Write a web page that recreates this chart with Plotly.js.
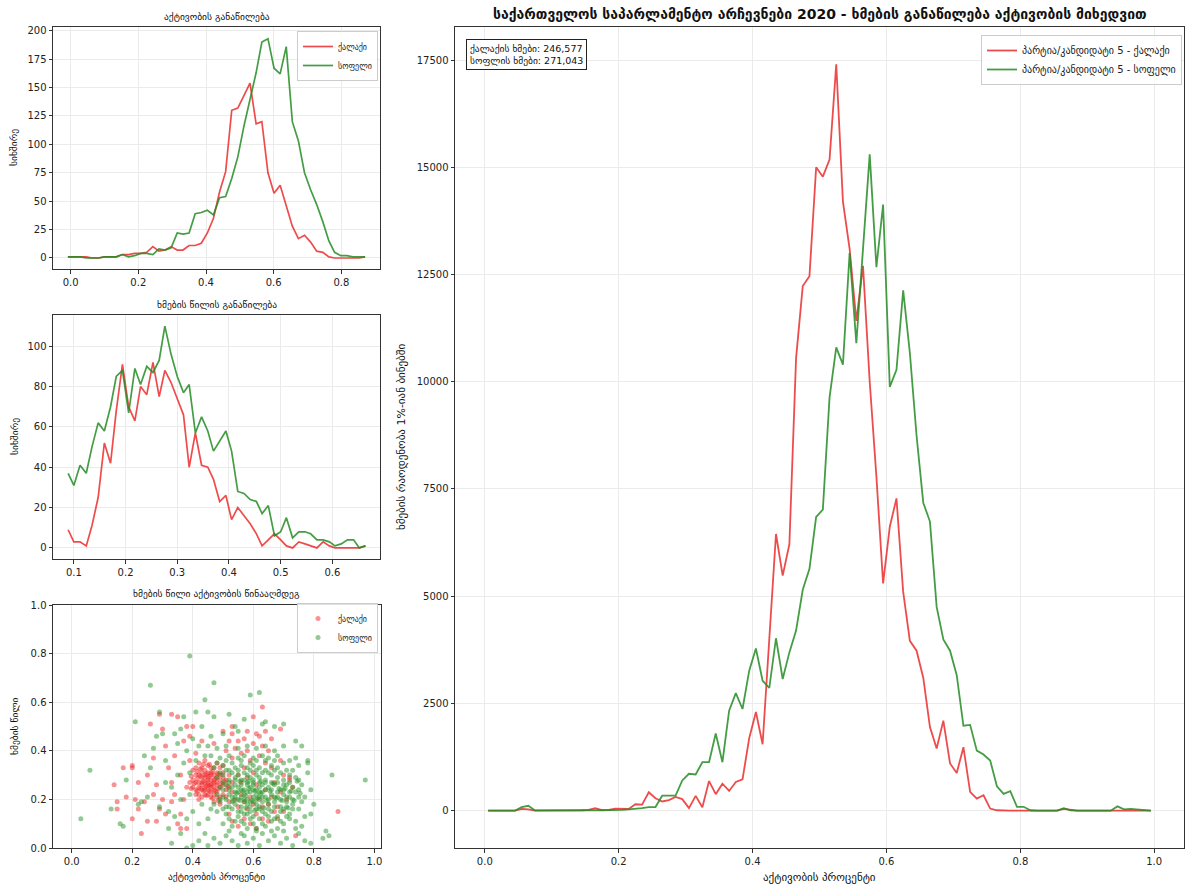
<!DOCTYPE html>
<html>
<head>
<meta charset="utf-8">
<script src="https://cdn.plot.ly/plotly-3.0.1.min.js"></script>
<style>
  html, body { margin: 0; padding: 0; background: #ffffff; }
  #chart { width: 1186px; height: 888px; }
</style>
</head>
<body>
<div id="chart"></div>
<script>
// ---- Turnout histogram (precinct counts) ----
const turnoutBins = [-0.008,0.010,0.028,0.046,0.064,0.082,0.100,0.117,0.135,0.153,0.171,0.189,0.207,0.225,0.243,0.261,0.279,0.297,0.315,0.332,0.350,0.368,0.386,0.404,0.422,0.440,0.458,0.476,0.494,0.512,0.530,0.548,0.565,0.583,0.601,0.619,0.637,0.655,0.673,0.691,0.709,0.727,0.745,0.763,0.780,0.798,0.816,0.834,0.852,0.870];
const turnoutUrban = [1,1,1,1,0,0,1,1,1,3,3,4,4,5,10,6,7,10,7,7,11,11,13,22,35,58,76,130,132,143,154,118,120,75,57,64,45,28,17,20,14,6,5,1,0,0,0,0,0,1];
const turnoutRural = [1,1,1,0,0,0,1,1,1,3,1,2,4,4,3,8,7,9,22,21,22,39,40,42,38,53,54,70,89,116,140,163,190,193,167,162,186,120,103,75,60,47,32,15,5,2,2,1,1,1];

// ---- Vote share histogram (precinct counts) ----
const shareBins = [0.089,0.100,0.112,0.124,0.135,0.147,0.159,0.171,0.182,0.194,0.206,0.218,0.229,0.241,0.253,0.265,0.276,0.288,0.300,0.312,0.323,0.335,0.347,0.359,0.370,0.382,0.394,0.405,0.417,0.429,0.441,0.453,0.464,0.476,0.488,0.500,0.511,0.523,0.535,0.547,0.558,0.570,0.582,0.594,0.605,0.617,0.629,0.641,0.652,0.664];
const shareUrban = [9,3,3,1,11,25,52,42,68,91,70,63,80,76,92,75,88,82,74,66,40,57,41,40,34,23,26,14,20,16,12,7,1,4,7,4,1,0,3,2,1,0,3,1,0,0,0,0,0,1];
const shareRural = [37,31,41,37,50,62,58,70,85,88,67,89,81,90,87,93,110,96,85,77,81,57,65,58,48,53,58,48,28,27,24,23,17,21,6,8,15,5,8,8,7,4,4,3,1,2,4,4,0,1];

// ---- Votes per 1% turnout bin ----
const voteBins = [0.005,0.015,0.025,0.035,0.045,0.055,0.065,0.075,0.085,0.095,0.105,0.115,0.125,0.135,0.145,0.155,0.165,0.175,0.185,0.195,0.205,0.215,0.225,0.235,0.245,0.255,0.265,0.275,0.285,0.295,0.305,0.315,0.325,0.335,0.345,0.355,0.365,0.375,0.385,0.395,0.405,0.415,0.425,0.435,0.445,0.455,0.465,0.475,0.485,0.495,0.505,0.515,0.525,0.535,0.545,0.555,0.565,0.575,0.585,0.595,0.605,0.615,0.625,0.635,0.645,0.655,0.665,0.675,0.685,0.695,0.705,0.715,0.725,0.735,0.745,0.755,0.765,0.775,0.785,0.795,0.805,0.815,0.825,0.835,0.845,0.855,0.865,0.875,0.885,0.895,0.905,0.915,0.925,0.935,0.945,0.955,0.965,0.975,0.985,0.995];
const votesUrban = [0,0,0,0,0,40,30,0,0,0, 0,0,0,5,10,20,60,15,20,45, 45,40,150,140,430,290,215,245,320,270, 60,345,80,690,385,630,460,670,730,1690, 2300,1550,4000,6450,5480,6210,10550,12230,12460,15000, 14780,15180,17400,14200,13100,11420,12700,10000,7790,5300, 6620,7280,5100,3960,3730,3100,1950,1450,2100,1100, 880,1480,440,280,360,50,10,0,0,0, 0,0,0,0,0,0,40,20,0,0, 0,0,0,0,0,0,0,0,0,0];
const votesRural = [0,0,0,0,0,85,115,5,0,0, 5,5,10,5,10,10,15,10,10,20, 20,30,40,60,85,85,350,350,350,705, 860,845,1130,1130,1800,1130,2330,2740,2370,3265, 3780,3030,2860,4020,3070,3690,4200,5150,5640,6850, 7020,9630,10800,10400,13000,10900,13200,15300,12670,14130, 9880,10280,12130,10670,8740,7180,6740,4750,3990,3730, 3160,1980,2000,1400,1310,1170,570,390,457,90, 90,10,0,0,0,0,60,10,0,0, 0,0,0,0,100,30,40,30,10,0];

const urbanTotal = "246,577";
const ruralTotal = "271,043";

// ---- Precincts: turnout vs vote share ----
const urbanPoints = [
 [0.40,0.28],[0.41,0.27],[0.42,0.30],[0.43,0.26],[0.44,0.29],[0.45,0.31],[0.46,0.28],[0.47,0.25],[0.48,0.27],[0.49,0.30],
 [0.41,0.24],[0.42,0.22],[0.43,0.33],[0.44,0.24],[0.45,0.22],[0.46,0.33],[0.47,0.30],[0.48,0.23],[0.49,0.21],[0.50,0.26],
 [0.42,0.27],[0.43,0.29],[0.44,0.27],[0.45,0.26],[0.46,0.25],[0.47,0.27],[0.48,0.31],[0.49,0.25],[0.50,0.29],[0.51,0.24],
 [0.40,0.32],[0.41,0.30],[0.42,0.25],[0.43,0.21],[0.44,0.32],[0.45,0.28],[0.46,0.21],[0.47,0.33],[0.48,0.35],[0.49,0.28],
 [0.43,0.24],[0.44,0.22],[0.45,0.34],[0.46,0.30],[0.47,0.22],[0.48,0.29],[0.50,0.22],[0.51,0.28],[0.52,0.25],[0.53,0.23],
 [0.39,0.27],[0.40,0.25],[0.41,0.33],[0.42,0.35],[0.44,0.36],[0.45,0.24],[0.46,0.26],[0.47,0.28],[0.48,0.26],[0.49,0.33],
 [0.43,0.27],[0.44,0.30],[0.45,0.29],[0.46,0.31],[0.47,0.24],[0.48,0.21],[0.50,0.31],[0.51,0.21],[0.52,0.30],[0.53,0.27],
 [0.44,0.25],[0.45,0.27],[0.46,0.23],[0.43,0.31],[0.42,0.20],[0.41,0.22],[0.47,0.19],[0.49,0.18],[0.50,0.34],[0.52,0.19],
 [0.405,0.265],[0.415,0.285],[0.425,0.245],[0.435,0.275],[0.445,0.255],[0.455,0.295],[0.465,0.265],[0.475,0.285],[0.485,0.245],[0.415,0.315],
 [0.425,0.295],[0.435,0.235],[0.445,0.305],[0.455,0.235],[0.465,0.315],[0.475,0.235],[0.485,0.305],[0.495,0.265],[0.435,0.345],[0.455,0.345],
 [0.415,0.235],[0.395,0.295],[0.505,0.275],[0.425,0.325],[0.445,0.215],[0.465,0.205],[0.485,0.195],[0.395,0.245],[0.515,0.255],[0.455,0.255],
 [0.54,0.20],[0.55,0.17],[0.56,0.22],[0.57,0.19],[0.58,0.16],[0.59,0.21],[0.60,0.18],[0.61,0.14],[0.62,0.20],[0.63,0.17],
 [0.55,0.30],[0.56,0.27],[0.57,0.33],[0.58,0.29],[0.59,0.36],[0.60,0.31],[0.61,0.26],[0.62,0.38],[0.63,0.42],[0.64,0.35],
 [0.53,0.37],[0.54,0.41],[0.55,0.44],[0.56,0.39],[0.57,0.45],[0.58,0.40],[0.60,0.43],[0.61,0.47],[0.65,0.40],[0.66,0.33],
 [0.64,0.24],[0.65,0.18],[0.66,0.21],[0.67,0.27],[0.68,0.17],[0.69,0.23],[0.70,0.30],[0.71,0.20],[0.72,0.28],[0.73,0.25],
 [0.52,0.14],[0.53,0.11],[0.55,0.09],[0.57,0.12],[0.59,0.10],[0.61,0.08],[0.63,0.12],[0.65,0.11],[0.67,0.15],[0.69,0.36],
 [0.51,0.40],[0.52,0.44],[0.53,0.47],[0.58,0.48],[0.62,0.46],[0.64,0.48],[0.66,0.45],[0.69,0.49],[0.63,0.58],[0.60,0.54],
 [0.14,0.26],[0.15,0.19],[0.15,0.16],[0.17,0.33],[0.18,0.21],[0.20,0.34],[0.20,0.33],[0.20,0.12],[0.21,0.20],[0.22,0.27],
 [0.22,0.16],[0.23,0.06],[0.24,0.19],[0.25,0.11],[0.25,0.30],[0.26,0.51],[0.27,0.37],[0.28,0.11],[0.28,0.26],[0.29,0.16],
 [0.29,0.55],[0.30,0.49],[0.30,0.20],[0.31,0.14],[0.32,0.33],[0.33,0.55],[0.33,0.27],[0.34,0.22],[0.35,0.54],[0.35,0.10],
 [0.36,0.08],[0.37,0.44],[0.38,0.50],[0.39,0.46],[0.40,0.50],[0.41,0.39],[0.43,0.44],[0.47,0.43],[0.50,0.48],[0.53,0.50],
 [0.72,0.29],[0.74,0.05],[0.88,0.15],[0.70,0.15],[0.68,0.12],[0.36,0.30],[0.37,0.20],[0.38,0.25],[0.38,0.08],[0.39,0.36],
 [0.34,0.38],[0.31,0.42],[0.36,0.14],[0.33,0.19],[0.27,0.22]
];
const ruralPoints = [
 [0.50,0.10],[0.53,0.09],[0.56,0.11],[0.58,0.08],[0.60,0.10],[0.62,0.12],[0.64,0.09],[0.66,0.11],[0.68,0.08],[0.70,0.10],[0.72,0.12],[0.55,0.13],[0.61,0.07],[0.74,0.11],
 [0.52,0.12],[0.54,0.11],[0.57,0.10],[0.59,0.12],[0.63,0.10],[0.65,0.13],[0.67,0.12],[0.69,0.11],[0.71,0.13],
 [0.48,0.15],[0.51,0.14],[0.53,0.16],[0.55,0.15],[0.57,0.14],[0.59,0.15],[0.60,0.13],[0.62,0.16],[0.64,0.14],[0.66,0.15],[0.68,0.13],[0.70,0.16],[0.72,0.14],[0.75,0.16],[0.77,0.13],
 [0.50,0.16],[0.52,0.17],[0.56,0.15],[0.58,0.14],[0.61,0.16],[0.63,0.15],[0.65,0.16],[0.67,0.17],[0.69,0.15],[0.71,0.17],[0.73,0.16],
 [0.47,0.18],[0.49,0.19],[0.51,0.17],[0.53,0.19],[0.54,0.18],[0.56,0.17],[0.57,0.19],[0.58,0.18],[0.59,0.17],[0.60,0.19],[0.61,0.18],[0.62,0.17],[0.63,0.19],[0.65,0.18],[0.67,0.19],[0.69,0.17],[0.71,0.19],[0.73,0.18],[0.76,0.19],
 [0.49,0.20],[0.51,0.20],[0.53,0.21],[0.55,0.20],[0.57,0.20],[0.59,0.19],[0.61,0.20],[0.63,0.21],[0.65,0.20],[0.67,0.21],[0.69,0.20],[0.71,0.21],[0.73,0.20],[0.75,0.21],
 [0.48,0.22],[0.50,0.21],[0.52,0.22],[0.54,0.21],[0.55,0.23],[0.56,0.21],[0.57,0.22],[0.58,0.20],[0.59,0.23],[0.60,0.21],[0.61,0.22],[0.62,0.21],[0.63,0.23],[0.64,0.21],[0.66,0.22],[0.68,0.21],[0.70,0.22],[0.72,0.21],[0.74,0.23],
 [0.50,0.24],[0.52,0.24],[0.54,0.23],[0.56,0.24],[0.58,0.23],[0.60,0.24],[0.62,0.23],[0.64,0.24],[0.66,0.24],[0.68,0.23],[0.70,0.24],[0.72,0.23],[0.75,0.24],
 [0.49,0.25],[0.51,0.26],[0.53,0.25],[0.54,0.26],[0.55,0.25],[0.56,0.26],[0.57,0.24],[0.58,0.26],[0.59,0.25],[0.60,0.26],[0.61,0.24],[0.62,0.25],[0.63,0.26],[0.65,0.25],[0.67,0.26],[0.69,0.24],[0.71,0.26],[0.73,0.25],[0.76,0.26],
 [0.50,0.27],[0.52,0.27],[0.54,0.28],[0.56,0.28],[0.58,0.27],[0.60,0.27],[0.62,0.27],[0.64,0.27],[0.66,0.27],[0.68,0.27],[0.70,0.26],[0.72,0.27],[0.75,0.28],
 [0.48,0.29],[0.50,0.30],[0.52,0.28],[0.54,0.29],[0.55,0.30],[0.57,0.28],[0.58,0.30],[0.59,0.29],[0.60,0.28],[0.61,0.30],[0.62,0.29],[0.64,0.28],[0.66,0.30],[0.68,0.29],[0.70,0.28],[0.72,0.30],[0.74,0.29],
 [0.49,0.31],[0.51,0.32],[0.53,0.31],[0.55,0.32],[0.57,0.31],[0.59,0.32],[0.61,0.32],[0.63,0.31],[0.65,0.31],[0.67,0.32],[0.69,0.31],[0.73,0.32],
 [0.47,0.33],[0.50,0.34],[0.52,0.32],[0.54,0.33],[0.56,0.34],[0.58,0.33],[0.60,0.34],[0.62,0.33],[0.64,0.32],[0.66,0.34],[0.68,0.33],[0.71,0.32],[0.75,0.34],[0.78,0.35],
 [0.48,0.35],[0.51,0.36],[0.53,0.35],[0.56,0.36],[0.59,0.35],[0.61,0.36],[0.64,0.36],[0.67,0.36],[0.70,0.35],[0.74,0.37],
 [0.46,0.38],[0.49,0.37],[0.52,0.38],[0.55,0.37],[0.57,0.38],[0.60,0.37],[0.63,0.38],[0.65,0.37],[0.68,0.38],[0.72,0.36],
 [0.45,0.42],[0.48,0.41],[0.51,0.42],[0.55,0.41],[0.58,0.42],[0.61,0.41],[0.64,0.42],[0.67,0.40],[0.70,0.42],
 [0.555,0.195],[0.565,0.235],[0.575,0.215],[0.585,0.245],[0.595,0.195],[0.605,0.235],[0.615,0.205],[0.625,0.275],[0.635,0.165],[0.645,0.195],
 [0.575,0.165],[0.585,0.275],[0.555,0.275],[0.605,0.155],[0.625,0.225],[0.545,0.225],[0.535,0.195],[0.655,0.235],[0.665,0.265],[0.675,0.205],
 [0.685,0.245],[0.695,0.195],[0.705,0.245],[0.715,0.165],[0.725,0.235],[0.735,0.195],[0.745,0.275],[0.755,0.225],
 [0.33,0.02],[0.38,0.00],[0.40,0.01],[0.42,0.03],[0.45,0.01],[0.47,0.04],[0.49,0.02],[0.51,0.05],[0.53,0.03],[0.55,0.01],[0.57,0.05],[0.58,0.02],
 [0.60,0.04],[0.62,0.01],[0.63,0.06],[0.65,0.03],[0.67,0.05],[0.69,0.02],[0.71,0.04],[0.73,0.01],[0.75,0.06],[0.77,0.03],[0.79,0.02],[0.83,0.04],
 [0.84,0.07],[0.85,0.05],[0.52,0.07],[0.56,0.06],[0.61,0.08],[0.66,0.07],[0.70,0.07],[0.74,0.08],[0.36,0.06],[0.44,0.06],
 [0.27,0.41],[0.28,0.46],[0.29,0.56],[0.30,0.47],[0.31,0.36],[0.32,0.15],[0.32,0.08],[0.33,0.25],[0.34,0.47],[0.35,0.43],
 [0.35,0.30],[0.36,0.49],[0.36,0.20],[0.37,0.54],[0.37,0.35],[0.38,0.12],[0.38,0.40],[0.39,0.22],[0.39,0.31],[0.40,0.45],
 [0.40,0.15],[0.41,0.56],[0.41,0.36],[0.42,0.10],[0.42,0.42],[0.43,0.18],[0.43,0.50],[0.44,0.61],[0.44,0.38],[0.45,0.12],
 [0.45,0.56],[0.46,0.46],[0.46,0.16],[0.47,0.54],[0.47,0.68],[0.34,0.13],[0.31,0.27],[0.29,0.17],[0.26,0.33],[0.25,0.21],
 [0.03,0.12],[0.06,0.32],[0.13,0.16],[0.16,0.10],[0.17,0.09],[0.18,0.28],[0.21,0.52],[0.22,0.18],[0.23,0.19],[0.24,0.38],
 [0.26,0.67],[0.39,0.79],[0.59,0.63],[0.62,0.64],[0.63,0.51],[0.64,0.52],[0.67,0.50],[0.70,0.51],[0.74,0.44],[0.76,0.42],
 [0.78,0.36],[0.79,0.24],[0.79,0.14],[0.86,0.30],[0.97,0.28],[0.80,0.18],[0.77,0.21],[0.78,0.31],[0.76,0.09],[0.54,0.50],
 [0.57,0.53],[0.50,0.47],[0.52,0.55],[0.55,0.48]
];

// ---- Styling ----
const RED = 'rgba(235,45,45,0.85)';
const GREEN = 'rgba(35,140,35,0.85)';
const FONT = 'DejaVu Sans, sans-serif';
const W = 1186, H = 888;
const px = v => v / W;
const py = v => 1 - v / H;

function axisStyle(extra) {
  return Object.assign({
    showline: true, mirror: true, linecolor: '#333', linewidth: 1,
    ticks: 'outside', ticklen: 3.5, tickwidth: 1, tickcolor: '#333',
    showgrid: true, gridcolor: '#ebebeb', gridwidth: 1,
    zeroline: false,
    tickfont: { family: FONT, size: 10, color: '#222' }
  }, extra);
}

const traces = [
  { x: turnoutBins, y: turnoutUrban, type: 'scatter', mode: 'lines', name: 'ქალაქი',
    line: { color: RED, width: 1.7 }, xaxis: 'x', yaxis: 'y', legend: 'legend2' },
  { x: turnoutBins, y: turnoutRural, type: 'scatter', mode: 'lines', name: 'სოფელი',
    line: { color: GREEN, width: 1.7 }, xaxis: 'x', yaxis: 'y', legend: 'legend2' },
  { x: shareBins, y: shareUrban, type: 'scatter', mode: 'lines', showlegend: false,
    line: { color: RED, width: 1.7 }, xaxis: 'x2', yaxis: 'y2' },
  { x: shareBins, y: shareRural, type: 'scatter', mode: 'lines', showlegend: false,
    line: { color: GREEN, width: 1.7 }, xaxis: 'x2', yaxis: 'y2' },
  { x: urbanPoints.map(p => p[0]), y: urbanPoints.map(p => p[1]), type: 'scatter', mode: 'markers', name: 'ქალაქი',
    marker: { color: 'rgba(240,40,40,0.5)', size: 5, line: { width: 0 } }, xaxis: 'x3', yaxis: 'y3', legend: 'legend3' },
  { x: ruralPoints.map(p => p[0]), y: ruralPoints.map(p => p[1]), type: 'scatter', mode: 'markers', name: 'სოფელი',
    marker: { color: 'rgba(40,150,40,0.5)', size: 5, line: { width: 0 } }, xaxis: 'x3', yaxis: 'y3', legend: 'legend3' },
  { x: voteBins, y: votesUrban, type: 'scatter', mode: 'lines', name: 'პარტია/კანდიდატი 5 - ქალაქი',
    line: { color: RED, width: 1.8 }, xaxis: 'x4', yaxis: 'y4', legend: 'legend' },
  { x: voteBins, y: votesRural, type: 'scatter', mode: 'lines', name: 'პარტია/კანდიდატი 5 - სოფელი',
    line: { color: GREEN, width: 1.8 }, xaxis: 'x4', yaxis: 'y4', legend: 'legend' }
];

const legendBase = {
  bgcolor: 'rgba(255,255,255,0.85)', bordercolor: '#cccccc', borderwidth: 1,
  xanchor: 'right', yanchor: 'top', tracegroupgap: 0
};

function label(text, x, y, size, opts) {
  return Object.assign({
    text: text, x: px(x), y: py(y), xref: 'paper', yref: 'paper',
    showarrow: false, xanchor: 'center', yanchor: 'middle',
    font: { family: FONT, size: size, color: '#111' }
  }, opts || {});
}

const layout = {
  width: W, height: H,
  margin: { l: 0, r: 0, t: 0, b: 0 },
  paper_bgcolor: '#ffffff', plot_bgcolor: '#ffffff',
  font: { family: FONT },
  xaxis: axisStyle({ domain: [px(53), px(380)], anchor: 'y', range: [-0.052, 0.914], dtick: 0.2, tick0: 0, tickformat: '.1f' }),
  yaxis: axisStyle({ domain: [py(269), py(27)], anchor: 'x', range: [-9.7, 203.3], dtick: 25, tick0: 0 }),
  xaxis2: axisStyle({ domain: [px(53), px(380)], anchor: 'y2', range: [0.0597, 0.692], dtick: 0.1, tick0: 0, tickformat: '.1f' }),
  yaxis2: axisStyle({ domain: [py(559), py(315)], anchor: 'x2', range: [-5.5, 115.5], dtick: 20, tick0: 0 }),
  xaxis3: axisStyle({ domain: [px(53), px(381)], anchor: 'y3', range: [-0.062, 1.022], dtick: 0.2, tick0: 0, tickformat: '.1f' }),
  yaxis3: axisStyle({ domain: [py(848), py(605)], anchor: 'x3', range: [0, 1], dtick: 0.2, tick0: 0, tickformat: '.1f' }),
  xaxis4: axisStyle({ domain: [px(455), px(1184)], anchor: 'y4', range: [-0.0445, 1.0445], dtick: 0.2, tick0: 0, tickformat: '.1f' }),
  yaxis4: axisStyle({ domain: [py(848), py(27)], anchor: 'x4', range: [-870, 18270], dtick: 2500, tick0: 0, tickformat: 'd' }),
  legend: Object.assign({}, legendBase, { x: px(1182), y: py(35), font: { family: FONT, size: 10, color: '#222' } }),
  legend2: Object.assign({}, legendBase, { x: px(378), y: py(31), font: { family: FONT, size: 8, color: '#222' } }),
  legend3: Object.assign({}, legendBase, { x: px(378), y: py(603), font: { family: FONT, size: 8, color: '#222' } }),
  annotations: [
    label('<b>საქართველოს საპარლამენტო არჩევნები 2020 - ხმების განაწილება აქტივობის მიხედვით</b>', 819.5, 14, 14),
    label('აქტივობის განაწილება', 216.5, 16, 9.5),
    label('ხმების წილის განაწილება', 216.5, 304, 9.5),
    label('ხმების წილი აქტივობის წინააღმდეგ', 216.5, 593, 9.5),
    label('სიხშირე', 14, 148, 9.5, { textangle: -90 }),
    label('სიხშირე', 14, 437, 9.5, { textangle: -90 }),
    label('ხმების წილი', 14, 726, 9.5, { textangle: -90 }),
    label('აქტივობის პროცენტი', 216.5, 876, 9.5),
    label('აქტივობის პროცენტი', 819.5, 877, 11),
    label('ხმების რაოდენობა 1%-იან ბინებში', 401, 437, 11, { textangle: -90 }),
    label('ქალაქის ხმები: ' + urbanTotal + '<br>სოფლის ხმები: ' + ruralTotal, 466, 39, 9.5,
      { xanchor: 'left', yanchor: 'top', align: 'left', bgcolor: '#ffffff', bordercolor: '#222', borderwidth: 1, borderpad: 3 })
  ]
};

Plotly.newPlot('chart', traces, layout, { displayModeBar: false, staticPlot: true });
</script>
</body>
</html>
